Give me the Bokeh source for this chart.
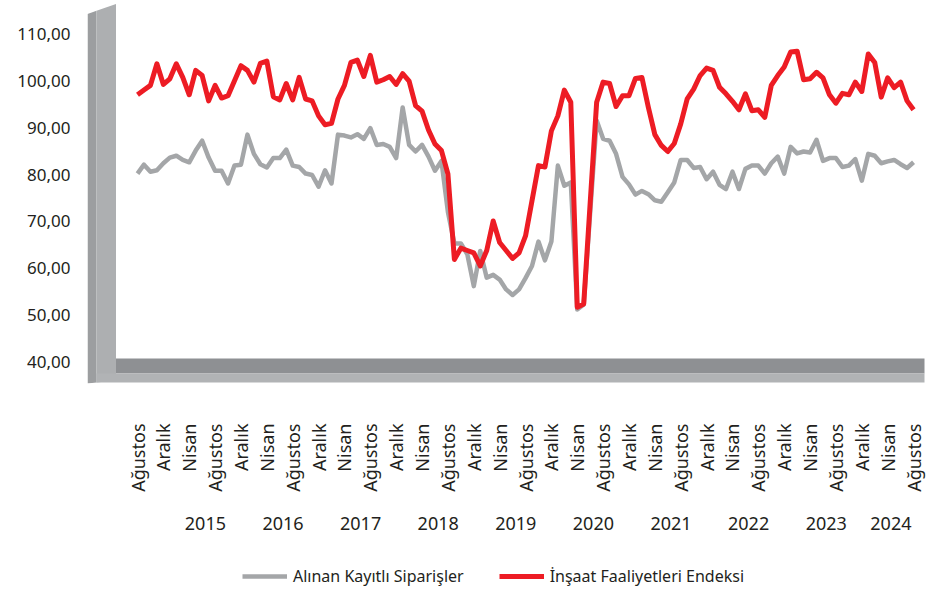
import math
import numpy as np
import pandas as pd
from bokeh.plotting import figure
from bokeh.layouts import column
from bokeh.models import Range1d, LinearAxis, FixedTicker, Legend, LegendItem, ColumnDataSource
from bokeh.embed import file_html
from bokeh.resources import INLINE

# ---------------- data ----------------
months = pd.date_range("2014-08-01", periods=121, freq="MS")

insaat_faaliyetleri = [
    97.0, 98.0, 99.0, 103.6, 99.2, 100.4, 103.6, 100.7, 97.0, 102.2, 101.1, 95.7,
    99.0, 96.3, 96.8, 100.0, 103.2, 102.2, 99.7, 103.7, 104.2, 96.6, 95.9, 99.4,
    95.9, 100.7, 96.1, 95.7, 92.5, 90.6, 90.9, 96.1, 99.0, 103.9, 104.4, 100.9,
    105.4, 99.7, 100.2, 100.9, 99.2, 101.5, 99.9, 94.7, 93.5, 89.5, 86.5, 85.1,
    80.1, 61.9, 64.3, 63.8, 63.3, 60.5, 63.8, 70.1, 65.5, 63.8, 62.1, 63.3,
    66.9, 74.4, 81.9, 81.6, 89.3, 92.5, 98.0, 95.4, 51.7, 52.4, 74.0, 95.4,
    99.7, 99.4, 94.5, 96.8, 96.8, 100.5, 100.7, 94.3, 88.5, 86.2, 84.9, 86.6,
    90.8, 96.1, 98.2, 101.1, 102.7, 102.2, 98.6, 97.2, 95.6, 93.8, 97.2, 93.6,
    93.8, 92.2, 99.0, 101.1, 102.9, 106.1, 106.3, 100.2, 100.4, 101.8, 100.6, 97.0,
    95.2, 97.3, 97.0, 99.7, 97.7, 105.7, 103.9, 96.5, 100.6, 98.5, 99.7, 95.7,
    93.8,
]

alinan_siparisler = [
    80.2, 82.1, 80.6, 80.9, 82.4, 83.6, 84.0, 83.1, 82.6, 85.1, 87.2, 83.6,
    80.8, 80.8, 78.1, 81.9, 82.1, 88.5, 84.4, 82.2, 81.5, 83.5, 83.5, 85.3,
    81.9, 81.6, 80.2, 79.9, 77.4, 80.9, 78.1, 88.5, 88.3, 87.9, 88.6, 87.6,
    89.9, 86.3, 86.5, 85.9, 83.5, 94.3, 86.3, 84.9, 86.3, 83.8, 80.8, 82.9,
    72.0, 65.3, 65.3, 63.0, 56.2, 63.7, 58.0, 58.6, 57.6, 55.5, 54.3, 55.5,
    57.9, 60.5, 65.7, 61.7, 65.7, 81.9, 77.6, 78.3, 51.2, 52.3, 72.0, 91.5,
    87.6, 87.2, 84.4, 79.5, 77.9, 75.7, 76.5, 75.8, 74.5, 74.2, 76.2, 78.3,
    83.1, 83.1, 81.4, 81.6, 79.0, 80.6, 77.8, 76.9, 80.6, 76.9, 81.2, 81.9,
    81.9, 80.2, 82.4, 83.8, 80.2, 85.9, 84.5, 84.9, 84.7, 87.4, 82.9, 83.5,
    83.5, 81.6, 81.9, 83.3, 78.7, 84.4, 84.0, 82.4, 82.8, 83.1, 82.2, 81.4,
    82.6,
]

x_tick_labels = ["Ağustos", "Aralık", "Nisan"] * 10 + ["Ağustos"]
year_labels = ["2015", "2016", "2017", "2018", "2019", "2020", "2021", "2022", "2023", "2024"]
y_ticks = [40, 50, 60, 70, 80, 90, 100, 110]
series_names = ["Alınan Kayıtlı Siparişler", "İnşaat Faaliyetleri Endeksi"]

# ---------------- derived ----------------
idx = np.arange(len(months))
x_ticks = [int(i) for i in idx[::4]]
year_centers = [float(idx[months.year == int(y)].mean()) for y in year_labels]

FONT = "Noto Sans"
TXT = "#231f20"
RED = "#ed1c24"
GRAY = "#a4a6a8"

W, H_MAIN, H_LEG = 929, 560, 32
LEFT = 87

# screen-pixel helpers for the 3D wall / floor decoration
X0, DX = 137.0, 6.467     # screen x of first month, px per month
Y110, DY = 33.3, 4.69     # screen y of value 110, px per unit


def sx(X):
    return (X - X0) / DX


def sy(Y):
    return 110 - (Y - Y110) / DY


p = figure(width=W, height=H_MAIN,
           x_range=Range1d(sx(LEFT), sx(W)), y_range=Range1d(sy(383), sy(0)),
           output_backend="svg", toolbar_location=None,
           x_axis_location=None, y_axis_location=None,
           min_border_left=LEFT, min_border_right=0, min_border_top=0,
           min_border_bottom=H_MAIN - 383,
           outline_line_color=None, background_fill_color="white")
p.grid.visible = False

# left wall
p.patch([sx(87), sx(96), sx(96), sx(87)], [sy(13.5), sy(10.3), sy(382), sy(383)],
        fill_color="#9c9ea0", line_color=None)
p.patch([sx(96), sx(115.5), sx(115.5), sx(96)], [sy(10.3), sy(3.5), sy(380), sy(382)],
        fill_color="#adafb1", line_color=None)
# floor
p.patch([sx(115.5), sx(924), sx(924), sx(115.5)], [sy(358), sy(358), sy(373), sy(373)],
        fill_color="#8e9093", line_color=None)
p.patch([sx(96), sx(924), sx(924), sx(96)], [sy(373), sy(373), sy(382), sy(382)],
        fill_color="#b1b3b5", line_color=None)

src = ColumnDataSource(dict(x=idx, red=insaat_faaliyetleri, gray=alinan_siparisler))
p.line("x", "gray", source=src, line_color=GRAY, line_width=4.5, line_join="round")
p.line("x", "red", source=src, line_color=RED, line_width=5, line_join="round")

axis_style = dict(axis_line_color=None, major_tick_line_color=None, minor_tick_line_color=None,
                  major_tick_in=0, major_tick_out=0,
                  major_label_text_font=FONT, major_label_text_color=TXT)

yaxis = LinearAxis(ticker=FixedTicker(ticks=y_ticks),
                   major_label_overrides={t: f"{t:.2f}".replace(".", ",") for t in y_ticks},
                   major_label_standoff=17, major_label_text_font_size="17px", **axis_style)
p.add_layout(yaxis, "left")

xaxis = LinearAxis(ticker=FixedTicker(ticks=x_ticks),
                   major_label_overrides=dict(zip(x_ticks, x_tick_labels)),
                   major_label_orientation=math.pi / 2, major_label_standoff=40,
                   major_label_text_font_size="18px", **axis_style)
p.add_layout(xaxis, "below")

yaxis2 = LinearAxis(ticker=FixedTicker(ticks=year_centers),
                    major_label_overrides=dict(zip(year_centers, year_labels)),
                    major_label_standoff=22, major_label_text_font_size="18px", **axis_style)
p.add_layout(yaxis2, "below")

# legend strip (its frame is aligned with the main frame, starting at x = LEFT)
pl = figure(width=W, height=H_LEG, x_range=Range1d(0, 1), y_range=Range1d(0, 1),
            output_backend="svg", toolbar_location=None,
            x_axis_location=None, y_axis_location=None,
            min_border=0, outline_line_color=None)
pl.grid.visible = False
lg_gray = pl.line([float("nan")], [float("nan")], line_color=GRAY, line_width=4.5)
lg_red = pl.line([float("nan")], [float("nan")], line_color=RED, line_width=5)
legend = Legend(items=[LegendItem(label=series_names[0], renderers=[lg_gray]),
                       LegendItem(label=series_names[1], renderers=[lg_red])],
                orientation="horizontal", location=(242 - LEFT, 5),
                border_line_color=None, background_fill_alpha=0,
                label_text_font=FONT, label_text_font_size="16px", label_text_color=TXT,
                glyph_width=45, label_standoff=6, spacing=35, padding=0, margin=0)
pl.add_layout(legend, "center")

layout = column(p, pl, spacing=0)
open("out.html", "w").write(file_html(layout, INLINE))
